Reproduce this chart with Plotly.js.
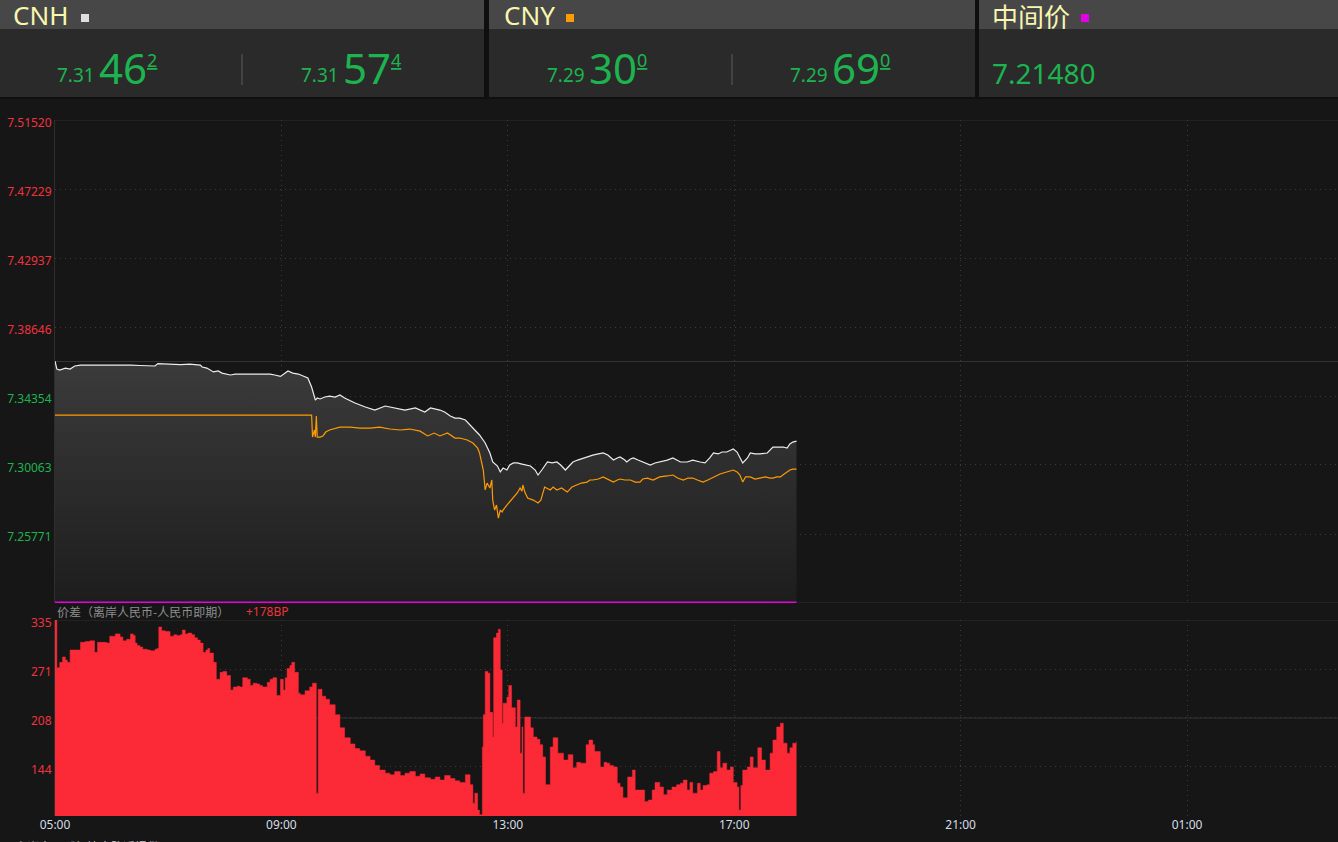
<!DOCTYPE html>
<html>
<head>
<meta charset="utf-8">
<script src="https://cdn.plot.ly/plotly-3.0.1.min.js"></script>
<style>
html,body{margin:0;padding:0;background:#161616;overflow:hidden;}
#chart{width:1338px;height:842px;}
</style>
</head>
<body>
<div id="chart"></div>
<script>
// ---------------- DATA ----------------
const cnhTimes = ['05:00','05:02','05:05','05:11','05:16','05:21','05:27','05:37','05:48','05:58','06:09','06:20','06:30','06:41','06:46','06:49','07:02','07:13','07:23','07:34','07:36','07:41','07:48','07:53','07:57','08:06','08:11','08:16','08:27','08:37','08:48','08:53','08:59','09:04','09:07','09:12','09:18','09:23','09:28','09:32','09:36','09:38','09:41','09:46','09:51','09:57','10:02','10:07','10:18','10:29','10:39','10:50','11:00','11:11','11:22','11:32','11:38','11:48','11:53','11:59','12:04','12:09','12:15','12:20','12:25','12:30','12:36','12:41','12:44','12:49','12:52','12:55','12:59','13:02','13:06','13:10','13:15','13:20','13:24','13:29','13:32','13:36','13:42','13:47','13:52','13:56','14:01','14:05','14:09','14:14','14:20','14:25','14:30','14:36','14:41','14:46','14:52','14:56','14:59','15:04','15:06','15:10','15:13','15:18','15:23','15:28','15:31','15:36','15:41','15:49','15:55','16:03','16:10','16:16','16:24','16:29','16:34','16:38','16:43','16:47','16:52','16:59','17:03','17:06','17:09','17:14','17:17','17:22','17:27','17:35','17:38','17:41','17:46','17:52','17:56','17:59','18:02','18:06'];
const cnhValues = [7.3653,7.3603,7.3597,7.3609,7.3603,7.3622,7.3628,7.3628,7.3628,7.3631,7.3628,7.3628,7.3625,7.3622,7.3622,7.3637,7.3634,7.3631,7.3634,7.3628,7.3616,7.3609,7.3585,7.3591,7.3578,7.3566,7.3572,7.3572,7.3572,7.3569,7.3572,7.3566,7.3557,7.3578,7.3591,7.3578,7.3572,7.3560,7.3547,7.3491,7.3410,7.3423,7.3417,7.3429,7.3435,7.3429,7.3442,7.3423,7.3392,7.3367,7.3348,7.3373,7.3361,7.3348,7.3361,7.3336,7.3361,7.3348,7.3336,7.3311,7.3298,7.3298,7.3286,7.3255,7.3224,7.3193,7.3143,7.3081,7.3025,7.3000,7.2963,7.2987,7.2975,7.3006,7.3019,7.3019,7.3012,7.3006,7.3000,7.2975,7.2944,7.2975,7.3025,7.3019,7.3025,7.3006,7.2975,7.3000,7.3025,7.3037,7.3050,7.3056,7.3068,7.3075,7.3081,7.3068,7.3037,7.3050,7.3056,7.3037,7.3025,7.3044,7.3050,7.3037,7.3025,7.3012,7.3006,7.3019,7.3025,7.3037,7.3050,7.3025,7.3025,7.3037,7.3025,7.3019,7.3050,7.3081,7.3075,7.3087,7.3087,7.3106,7.3087,7.3050,7.3019,7.3050,7.3081,7.3075,7.3075,7.3081,7.3099,7.3118,7.3118,7.3118,7.3112,7.3137,7.3149,7.3155];

const cnyTimes = ['05:00','09:32','09:33','09:35','09:36','09:37','09:38','09:41','09:44','09:47','09:51','09:57','10:02','10:13','10:23','10:34','10:44','10:55','11:06','11:16','11:27','11:35','11:42','11:48','11:56','12:04','12:09','12:17','12:23','12:28','12:30','12:34','12:36','12:38','12:41','12:43','12:44','12:46','12:48','12:50','12:52','12:54','12:55','12:59','13:02','13:06','13:10','13:13','13:15','13:16','13:18','13:21','13:27','13:32','13:35','13:39','13:45','13:48','13:52','13:57','14:03','14:08','14:13','14:18','14:24','14:27','14:30','14:36','14:41','14:46','14:52','14:56','14:59','15:04','15:10','15:15','15:20','15:23','15:28','15:34','15:41','15:49','15:55','16:00','16:06','16:11','16:16','16:21','16:27','16:32','16:38','16:45','16:52','16:56','16:59','17:03','17:06','17:09','17:12','17:17','17:22','17:27','17:33','17:38','17:41','17:45','17:49','17:53','17:56','17:59','18:02','18:06'];
const cnyValues = [7.3317,7.3317,7.3180,7.3224,7.3180,7.3311,7.3180,7.3180,7.3187,7.3211,7.3224,7.3236,7.3242,7.3242,7.3236,7.3236,7.3242,7.3230,7.3224,7.3230,7.3217,7.3187,7.3205,7.3187,7.3205,7.3174,7.3174,7.3162,7.3143,7.3112,7.3081,7.2975,7.2851,7.2894,7.2863,7.2913,7.2788,7.2726,7.2757,7.2676,7.2726,7.2714,7.2726,7.2757,7.2776,7.2801,7.2832,7.2863,7.2844,7.2882,7.2838,7.2801,7.2788,7.2770,7.2788,7.2869,7.2851,7.2869,7.2851,7.2863,7.2838,7.2869,7.2882,7.2894,7.2900,7.2913,7.2913,7.2919,7.2932,7.2919,7.2900,7.2913,7.2919,7.2913,7.2913,7.2900,7.2900,7.2919,7.2925,7.2913,7.2932,7.2938,7.2944,7.2925,7.2913,7.2925,7.2925,7.2913,7.2900,7.2913,7.2932,7.2950,7.2963,7.2969,7.2975,7.2963,7.2944,7.2900,7.2932,7.2932,7.2919,7.2925,7.2932,7.2925,7.2925,7.2932,7.2932,7.2950,7.2963,7.2975,7.2981,7.2981];

const spreadTimes = ['05:00','05:02','05:05','05:08','05:11','05:13','05:16','05:21','05:27','05:32','05:37','05:42','05:45','05:50','05:55','05:58','06:04','06:09','06:12','06:16','06:20','06:23','06:25','06:27','06:30','06:33','06:38','06:41','06:46','06:48','06:50','06:53','06:57','06:59','07:02','07:06','07:09','07:13','07:15','07:18','07:21','07:25','07:28','07:31','07:34','07:37','07:40','07:42','07:44','07:48','07:51','07:55','07:58','08:02','08:06','08:09','08:13','08:16','08:19','08:24','08:27','08:30','08:34','08:37','08:40','08:45','08:48','08:51','08:55','08:59','09:02','09:04','09:06','09:09','09:11','09:14','09:18','09:20','09:25','09:30','09:33','09:37','09:39','09:43','09:47','09:51','09:57','10:02','10:07','10:13','10:18','10:23','10:29','10:34','10:39','10:44','10:50','10:55','11:00','11:06','11:11','11:16','11:22','11:27','11:32','11:38','11:43','11:48','11:53','11:59','12:04','12:09','12:15','12:20','12:23','12:25','12:28','12:30','12:33','12:34','12:36','12:39','12:41','12:44','12:45','12:48','12:50','12:52','12:54','12:55','12:59','13:01','13:04','13:08','13:10','13:13','13:15','13:16','13:18','13:24','13:27','13:31','13:34','13:37','13:40','13:45','13:48','13:53','13:59','14:04','14:09','14:13','14:17','14:23','14:26','14:30','14:32','14:38','14:42','14:45','14:48','14:52','14:56','14:59','15:02','15:07','15:12','15:15','15:20','15:25','15:29','15:33','15:36','15:41','15:45','15:49','15:54','15:59','16:03','16:06','16:10','16:13','16:16','16:21','16:24','16:27','16:31','16:34','16:38','16:42','16:45','16:48','16:52','16:56','16:59','17:03','17:05','17:07','17:09','17:14','17:17','17:20','17:25','17:29','17:33','17:38','17:41','17:45','17:49','17:52','17:56','17:59','18:02','18:06'];
const spreadValues = [335,273,280,287,283,280,296,296,306,307,308,293,306,306,305,314,317,313,308,310,317,315,305,302,300,297,296,295,297,298,326,321,320,320,314,316,315,316,322,317,318,316,312,309,305,293,296,298,292,280,258,267,268,263,244,248,249,248,260,258,250,253,252,250,248,254,258,260,237,258,244,260,272,276,280,267,240,238,243,248,253,110,245,236,232,225,212,195,182,174,168,165,158,153,146,140,136,134,138,133,136,138,132,135,130,128,131,127,133,129,126,124,134,121,97,110,88,82,170,212,268,266,215,183,312,318,323,270,201,227,235,250,221,196,231,162,196,110,209,195,183,180,173,157,121,170,182,162,153,160,143,150,149,173,179,173,164,144,150,149,146,144,123,118,104,131,140,114,114,99,101,114,124,118,108,114,118,121,123,127,114,124,110,123,114,120,121,136,138,164,143,149,140,144,124,118,88,120,140,144,157,143,169,153,140,162,179,196,201,175,162,169,175,177];

const priceTickLabels = ['7.51520','7.47229','7.42937','7.38646','7.34354','7.30063','7.25771'];
const spreadTickLabels = ['335','271','208','144'];
const timeTickLabels = ['05:00','09:00','13:00','17:00','21:00','01:00'];

const midRate = 7.21480;          // 中间价
const refRate = 7.36500;          // centre reference line
const priceRange = [7.21480, 7.51520];
const spreadRange = [80.3, 335];
const spreadCentre = 207.65;
const timeRange = ['05:00', '03:40'];

const header = [
  {name:'CNH', mark:'#dedede', bid:['7.31','46','2'], ask:['7.31','57','4']},
  {name:'CNY', mark:'#ff9a00', bid:['7.29','30','0'], ask:['7.29','69','0']},
  {name:'中间价', mark:'#e400e4', value:'7.21480'}
];
const spreadLabel = '价差（离岸人民币-人民币即期）';
const spreadNow = '+178BP';
const footNote = '离岸人民币行情由路透提供';

// ---------------- HELPERS ----------------
const W = 1338, H = 842;
const D0 = '2024-05-20 ', D1 = '2024-05-21 ';
function toDate(t){ return (parseInt(t.slice(0,2),10) < 5 ? D1 : D0) + t; }
const px = p => p / W;
const py = p => 1 - p / H;

const FONT = 'Noto Sans, "Noto Sans CJK SC", sans-serif';
const CJK = '"Noto Sans CJK SC", "Noto Sans", sans-serif';
const GREEN = '#1db34f', RED = '#f0323e';

// ---------------- TRACES ----------------
const cnhX = cnhTimes.map(toDate);
const cnyX = cnyTimes.map(toDate);
const spX = spreadTimes.map(toDate);

const traces = [
  { // gray gradient area under CNH
    x: cnhX, y: cnhValues, type:'scatter', mode:'lines',
    line:{width:0, color:'rgba(0,0,0,0)'}, fill:'tozeroy',
    fillgradient:{type:'vertical', start: priceRange[0], stop: cnhValues[0],
      colorscale:[[0,'#1d1d1d'],[1,'#3b3b3b']]},
    hoverinfo:'skip', xaxis:'x', yaxis:'y'
  },
  { // mid rate line
    x:[cnhX[0], cnhX[cnhX.length-1]], y:[midRate, midRate], type:'scatter', mode:'lines',
    line:{color:'#e400e4', width:3}, hoverinfo:'skip', xaxis:'x', yaxis:'y'
  },
  { // CNY
    x: cnyX, y: cnyValues, type:'scatter', mode:'lines',
    line:{color:'#ff9a00', width:1.2}, hoverinfo:'skip', xaxis:'x', yaxis:'y'
  },
  { // CNH
    x: cnhX, y: cnhValues, type:'scatter', mode:'lines',
    line:{color:'#ececec', width:1.2}, hoverinfo:'skip', xaxis:'x', yaxis:'y'
  },
  { // spread
    x: spX, y: spreadValues, type:'scatter', mode:'lines',
    line:{shape:'hv', width:0.5, color:'#fc2a36'}, fill:'tozeroy', fillcolor:'#fc2a36',
    hoverinfo:'skip', xaxis:'x', yaxis:'y2'
  }
];

// ---------------- AXES ----------------
const priceTickVals = priceTickLabels.map(Number);
const priceTickText = priceTickLabels.map(s => `<span style="color:${Number(s) > refRate ? RED : GREEN}">${s}</span>`);
const spreadTickVals = spreadTickLabels.map(Number);

const gridDash = '1px,4px';
const GRID = '#3a3a3a';
const SOLID = '#2e2e2e';

const layout = {
  width: W, height: H,
  margin:{l:0, r:0, t:0, b:0},
  paper_bgcolor:'#161616', plot_bgcolor:'#161616',
  showlegend:false, hovermode:false,
  font:{family:FONT, color:'#cccccc', size:12},
  xaxis:{
    type:'date', domain:[px(55), 1], anchor:'y2',
    range:[toDate(timeRange[0]), toDate(timeRange[1])],
    tickvals: timeTickLabels.map(toDate), ticktext: timeTickLabels,
    tickfont:{color:'#d5dde6', size:12, family:FONT},
    showgrid:true, gridcolor:GRID, griddash:gridDash, gridwidth:1,
    showline:false, zeroline:false, ticks:'', fixedrange:true
  },
  yaxis:{
    domain:[py(603), py(120)], range:[priceRange[0]-0.00001, priceRange[1]+0.00001],
    tickvals: priceTickVals, ticktext: priceTickText,
    tickfont:{size:12, family:FONT}, ticklabelshift:3,
    showgrid:true, gridcolor:GRID, griddash:gridDash, gridwidth:1,
    showline:true, linecolor:SOLID, linewidth:1, zeroline:false, ticks:'', fixedrange:true
  },
  yaxis2:{
    domain:[py(816), py(620)], range:[spreadRange[0], spreadRange[1]+0.05],
    tickvals: spreadTickVals, ticktext: spreadTickLabels,
    tickfont:{size:12, family:FONT, color:RED}, ticklabelshift:3,
    showgrid:true, gridcolor:GRID, griddash:gridDash, gridwidth:1,
    showline:true, linecolor:SOLID, linewidth:1, zeroline:false, ticks:'', fixedrange:true
  },
  shapes:[], annotations:[]
};

// plot frame lines
const hline = (yref, y, color) => ({type:'line', xref:'paper', yref, x0:px(55), x1:1, y0:y, y1:y, line:{color, width:1}, layer:'below'});
layout.shapes.push(hline('y', priceRange[1], SOLID));
layout.shapes.push(hline('y', refRate, '#333333'));
layout.shapes.push(hline('y', priceRange[0], SOLID));
layout.shapes.push(hline('y2', spreadRange[1], SOLID));
layout.shapes.push(hline('y2', spreadCentre, '#333333'));

// header boxes
const rect = (x0,y0,x1,y1,color) => ({type:'rect', xref:'paper', yref:'paper', x0:px(x0), x1:px(x1), y0:py(y1), y1:py(y0), fillcolor:color, line:{width:0}, layer:'below'});
layout.shapes.push(rect(0,0,W,99,'#0f0f0f'));
const panels = [[0,484],[489,975],[979,1338]];
panels.forEach(([a,b]) => {
  layout.shapes.push(rect(a,0,b,29,'#474747'));
  layout.shapes.push(rect(a,29,b,97,'#2a2a2a'));
});
// colour squares
const squareX = [81, 566, 1081];
header.forEach((h,i) => layout.shapes.push(rect(squareX[i],14,squareX[i]+8,22,h.mark)));
// separators
[242, 732].forEach(x => layout.shapes.push({type:'line', xref:'paper', yref:'paper', x0:px(x), x1:px(x), y0:py(54), y1:py(85), line:{color:'#5c5c5c', width:1}}));

function ann(text, x, y, size, color, family, extra){
  return Object.assign({text, x:px(x), y:py(y), xref:'paper', yref:'paper', xanchor:'left', yanchor:'middle',
    showarrow:false, font:{size, color, family: family || FONT}, borderpad:0}, extra||{});
}
const titleX = [12, 503, 991];
header.forEach((h,i) => layout.annotations.push(ann(h.name, titleX[i], -4, 26, '#f8f6b0', i===2?CJK:FONT, {yanchor:'top'})));

function quote(q, x0){
  layout.annotations.push(ann(q[0], x0, 75, 19, GREEN));
  layout.annotations.push(ann(q[1], x0+42, 67, 42, GREEN));
  layout.annotations.push(ann('<u>'+q[2]+'</u>', x0+90, 60, 18, GREEN));
}
quote(header[0].bid, 56);
quote(header[0].ask, 300);
quote(header[1].bid, 546);
quote(header[1].ask, 789);
layout.annotations.push(ann(header[2].value, 991, 73, 28, GREEN));

layout.annotations.push(ann(spreadLabel, 56, 611, 12, '#8e8e8e', CJK));
layout.annotations.push(ann(spreadNow, 245, 611, 12, RED));
layout.annotations.push(ann(footNote, 14, 846, 12, '#c8c8c8', CJK, {yanchor:'middle'}));

Plotly.newPlot('chart', traces, layout, {staticPlot:true, displayModeBar:false});
</script>
</body>
</html>
